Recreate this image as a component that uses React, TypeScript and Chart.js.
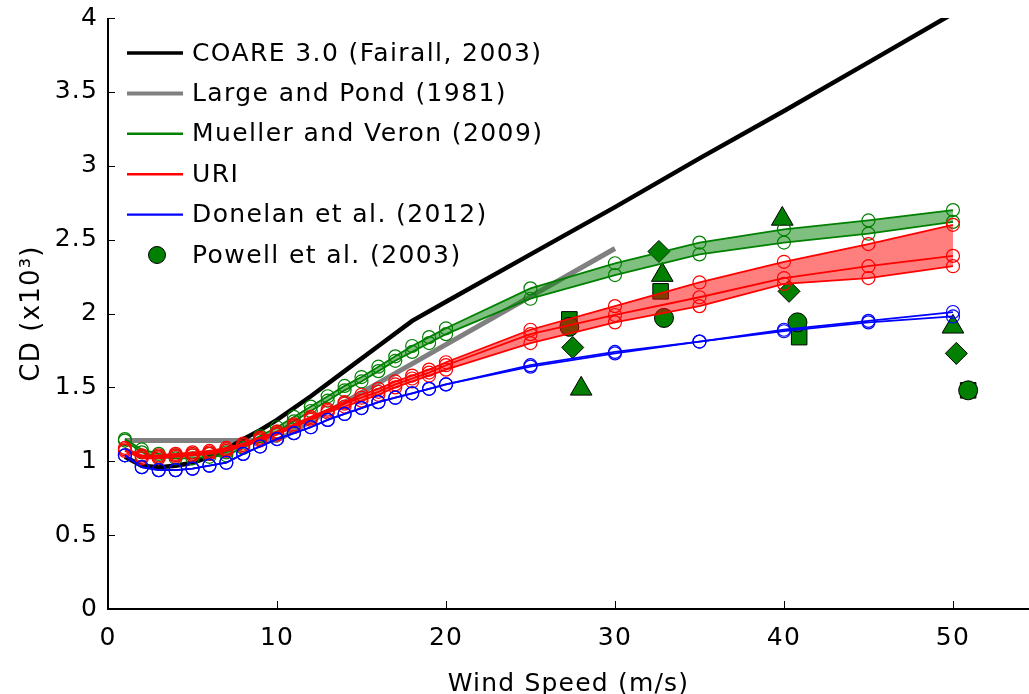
import { useEffect, useRef } from 'react';
import { Chart, registerables } from 'chart.js';

Chart.register(...registerables);

// ---------- data ----------
const windSpeed = [1, 2, 3, 4, 5, 6, 7, 8, 9, 10, 11, 12, 13, 14, 15, 16, 17, 18, 19, 20, 25, 30, 35, 40, 45, 50];

const coareWind = [1, 2, 3, 4, 5, 6, 7, 8, 9, 10, 12, 14, 16, 18, 20, 25, 30, 35, 40, 45, 50];
const coareCd = [1.03, 0.97, 0.96, 0.97, 0.99, 1.03, 1.08, 1.15, 1.21, 1.28, 1.44, 1.61, 1.78, 1.95, 2.08, 2.4, 2.72, 3.05, 3.37, 3.7, 4.03];

const largePondWind = [1, 10, 30];
const largePondCd = [1.14, 1.14, 2.44];

const muellerUpper = [1.15, 1.08, 1.05, 1.04, 1.04, 1.05, 1.06, 1.11, 1.17, 1.23, 1.3, 1.37, 1.44, 1.51, 1.57, 1.64, 1.71, 1.78, 1.84, 1.9, 2.17, 2.34, 2.48, 2.57, 2.63, 2.7];
const muellerLower = [1.14, 1.06, 1.03, 1.02, 1.02, 1.03, 1.04, 1.09, 1.15, 1.2, 1.27, 1.34, 1.41, 1.48, 1.54, 1.61, 1.68, 1.74, 1.8, 1.86, 2.1, 2.26, 2.4, 2.48, 2.54, 2.62];

const uriUpper = [1.09, 1.04, 1.04, 1.05, 1.06, 1.07, 1.09, 1.12, 1.16, 1.2, 1.25, 1.3, 1.35, 1.4, 1.45, 1.49, 1.54, 1.58, 1.62, 1.67, 1.89, 2.05, 2.21, 2.35, 2.47, 2.6];
const uriMiddle = [1.08, 1.03, 1.03, 1.04, 1.05, 1.06, 1.08, 1.11, 1.15, 1.19, 1.24, 1.29, 1.34, 1.39, 1.43, 1.47, 1.52, 1.56, 1.6, 1.65, 1.86, 1.99, 2.11, 2.24, 2.32, 2.39];
const uriLower = [1.07, 1.02, 1.02, 1.03, 1.04, 1.05, 1.07, 1.1, 1.14, 1.18, 1.23, 1.28, 1.33, 1.37, 1.41, 1.45, 1.5, 1.54, 1.58, 1.62, 1.8, 1.94, 2.05, 2.2, 2.24, 2.32];

const donelanA = [1.04, 0.96, 0.94, 0.94, 0.95, 0.97, 0.99, 1.05, 1.1, 1.15, 1.19, 1.23, 1.28, 1.32, 1.36, 1.4, 1.43, 1.46, 1.49, 1.52, 1.65, 1.74, 1.81, 1.89, 1.95, 2.01];
const donelanB = [1.04, 0.96, 0.94, 0.94, 0.95, 0.97, 0.99, 1.05, 1.1, 1.15, 1.19, 1.23, 1.28, 1.32, 1.36, 1.4, 1.43, 1.46, 1.49, 1.52, 1.64, 1.73, 1.81, 1.88, 1.94, 1.98];

const powellCircleWind = [27.3, 32.9, 40.8, 50.9];
const powellCircleCd = [1.91, 1.97, 1.94, 1.48];
const powellSquareWind = [27.3, 32.7, 40.9, 50.9];
const powellSquareCd = [1.96, 2.15, 1.84, 1.48];
const powellDiamondWind = [27.5, 32.6, 40.3, 50.2];
const powellDiamondCd = [1.77, 2.42, 2.15, 1.73];
const powellTriangleWind = [28.0, 32.8, 39.9, 50.0];
const powellTriangleCd = [1.49, 2.26, 2.64, 1.91];

const xTicks = [0, 10, 20, 30, 40, 50];
const yTicks = [0, 0.5, 1, 1.5, 2, 2.5, 3, 3.5, 4];

const legendLabels = [
  'COARE 3.0 (Fairall, 2003)',
  'Large and Pond (1981)',
  'Mueller and Veron (2009)',
  'URI',
  'Donelan et al. (2012)',
  'Powell et al. (2003)',
];
const legendColors = ['#000000', '#808080', '#008000', '#ff0000', '#0000ff', '#007f00'];
const legendWidths = [3.5, 4, 2.5, 2.5, 2.2, 0];

// ---------- helpers ----------
const pts = (xs: number[], ys: number[]) => xs.map((x, i) => ({ x, y: ys[i] }));

const FONT = "'DejaVu Sans', 'Liberation Sans', sans-serif";

const circleLine = (label: string, ys: number[], color: string, order: number, fill: any = false, bg = 'transparent') => ({
  label,
  data: pts(windSpeed, ys),
  borderColor: color,
  borderWidth: 1.8,
  backgroundColor: bg,
  fill,
  pointStyle: 'circle',
  pointRadius: 6.5,
  pointBorderWidth: 1.2,
  pointBorderColor: color,
  pointBackgroundColor: 'transparent',
  showLine: true,
  tension: 0,
  order,
});

const powellSet = (label: string, xs: number[], ys: number[], style: string, radius: number) => ({
  label,
  data: pts(xs, ys),
  showLine: false,
  pointStyle: style,
  pointRadius: radius,
  pointBackgroundColor: '#007f00',
  pointBorderColor: '#000000',
  pointBorderWidth: 1,
  borderColor: '#000000',
  backgroundColor: '#007f00',
  order: 9,
});

const decorPlugin = {
  id: 'decor',
  beforeDraw(chart: any) {
    (chart.ctx as any).letterSpacing = '1.2px';
  },
  afterDatasetsDraw(chart: any) {
    const { ctx, chartArea, scales } = chart;
    const xs = scales.x;
    const ys = scales.y;
    ctx.save();
    ctx.strokeStyle = '#000';
    ctx.lineWidth = 2;
    ctx.beginPath();
    ctx.moveTo(chartArea.left, ys.getPixelForValue(4));
    ctx.lineTo(chartArea.left, chartArea.bottom);
    ctx.lineTo(chartArea.right, chartArea.bottom);
    ctx.stroke();
    ctx.lineWidth = 1;
    ctx.beginPath();
    xTicks.forEach((v) => {
      if (v === 0) return;
      const px = Math.round(xs.getPixelForValue(v)) + 0.5;
      ctx.moveTo(px, chartArea.bottom);
      ctx.lineTo(px, chartArea.bottom - 8);
    });
    yTicks.forEach((v) => {
      if (v === 0) return;
      const py = Math.round(ys.getPixelForValue(v)) + 0.5;
      ctx.moveTo(chartArea.left, py);
      ctx.lineTo(chartArea.left + 7, py);
    });
    ctx.stroke();

    // legend
    const x0 = 127;
    const x1 = 183;
    const textX = 192;
    const y0 = 53;
    const dy = 40.4;
    ctx.font = `25px ${FONT}`;
    ctx.textBaseline = 'middle';
    ctx.textAlign = 'left';
    (ctx as any).letterSpacing = '1.4px';
    legendLabels.forEach((lab, i) => {
      const y = y0 + i * dy;
      if (i < 5) {
        ctx.strokeStyle = legendColors[i];
        ctx.lineWidth = legendWidths[i];
        ctx.beginPath();
        ctx.moveTo(x0, y);
        ctx.lineTo(x1, y);
        ctx.stroke();
      } else {
        ctx.fillStyle = legendColors[i];
        ctx.strokeStyle = '#000';
        ctx.lineWidth = 1;
        ctx.beginPath();
        ctx.arc(157, y, 8.5, 0, Math.PI * 2);
        ctx.fill();
        ctx.stroke();
      }
      ctx.fillStyle = '#000';
      ctx.fillText(lab, textX, y + 1);
    });
    ctx.restore();
  },
};

export default function App() {
  const ref = useRef<HTMLCanvasElement | null>(null);

  useEffect(() => {
    if (!ref.current) return;
    Chart.defaults.font.family = FONT;
    Chart.defaults.color = '#000';

    const datasets: any[] = [
      {
        label: legendLabels[1],
        data: pts(largePondWind, largePondCd),
        borderColor: '#808080',
        borderWidth: 5,
        pointRadius: 0,
        showLine: true,
        fill: false,
        order: 6,
      },
      {
        label: legendLabels[0],
        data: pts(coareWind, coareCd),
        borderColor: '#000000',
        borderWidth: 4.5,
        pointRadius: 0,
        showLine: true,
        fill: false,
        order: 5,
      },
      circleLine(legendLabels[2], muellerLower, '#008000', 4),
      circleLine(legendLabels[2], muellerUpper, '#008000', 4, { target: 2 }, 'rgba(0,128,0,0.5)'),
      circleLine(legendLabels[3], uriLower, '#ff0000', 3),
      circleLine(legendLabels[3], uriMiddle, '#ff0000', 3),
      circleLine(legendLabels[3], uriUpper, '#ff0000', 3, { target: 4 }, 'rgba(255,0,0,0.5)'),
      circleLine(legendLabels[4], donelanA, '#0000ff', 1),
      circleLine(legendLabels[4], donelanB, '#0000ff', 1),
      powellSet(legendLabels[5], powellCircleWind, powellCircleCd, 'circle', 9.5),
      powellSet(legendLabels[5], powellSquareWind, powellSquareCd, 'rect', 11),
      powellSet(legendLabels[5], powellDiamondWind, powellDiamondCd, 'rectRot', 11),
      powellSet(legendLabels[5], powellTriangleWind, powellTriangleCd, 'triangle', 12.5),
    ];

    const chart = new Chart(ref.current, {
      type: 'line',
      data: { datasets },
      plugins: [decorPlugin],
      options: {
        animation: false,
        responsive: false,
        maintainAspectRatio: false,
        layout: { autoPadding: false, padding: { top: 18, right: 0, left: 0, bottom: 0 } },
        plugins: {
          legend: { display: false },
          tooltip: { enabled: false },
          filler: { propagate: false },
        },
        elements: { line: { tension: 0 } },
        scales: {
          x: {
            type: 'linear',
            min: 0,
            max: 54.5,
            border: { display: false },
            grid: { display: false, drawTicks: false },
            ticks: {
              stepSize: 10,
              includeBounds: false,
              padding: 14,
              font: { size: 25 },
              color: '#000',
              maxRotation: 0,
              callback: (v: any) => String(Number(v)),
            },
            title: {
              display: true,
              text: 'Wind Speed (m/s)',
              font: { size: 25, lineHeight: 1 },
              color: '#000',
              padding: { top: 0, bottom: -3 },
            },
            afterFit: (scale: any) => {
              scale.height = 85;
              scale.paddingLeft = 0;
              scale.paddingRight = 0;
            },
          },
          y: {
            type: 'linear',
            min: 0,
            max: 4,
            border: { display: false },
            grid: { display: false, drawTicks: false },
            ticks: {
              stepSize: 0.5,
              includeBounds: false,
              padding: 10,
              font: { size: 25 },
              color: '#000',
              callback: (v: any) => String(Number(v)),
            },
            title: {
              display: true,
              text: 'CD (x10³)',
              font: { size: 26, lineHeight: 1 },
              color: '#000',
              padding: { top: 19, bottom: 0 },
            },
            afterFit: (scale: any) => {
              scale.width = 108;
              scale.paddingTop = 0;
              scale.paddingBottom = 0;
            },
          },
        },
      } as any,
    });
    return () => chart.destroy();
  }, []);

  return (
    <div style={{ position: 'fixed', left: 0, top: 0, width: 1029, height: 694, background: '#fff' }}>
      <canvas ref={ref} width={1029} height={694} style={{ display: 'block', width: 1029, height: 694 }} />
    </div>
  );
}
